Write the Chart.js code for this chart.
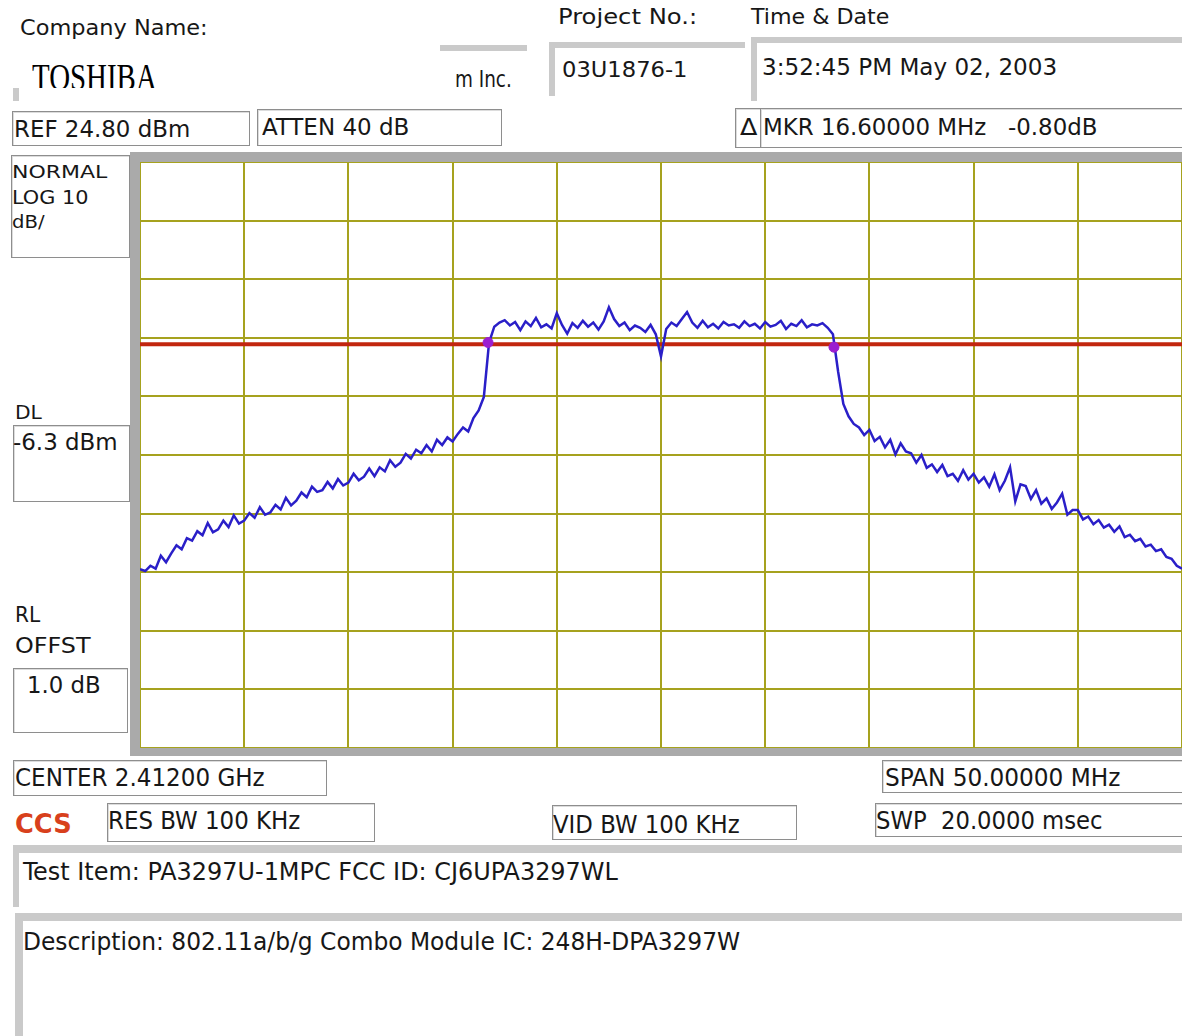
<!DOCTYPE html>
<html>
<head>
<meta charset="utf-8">
<script src="https://cdn.jsdelivr.net/npm/chart.js@4.4.0/dist/chart.umd.min.js"></script>
<style>
  html, body { margin: 0; padding: 0; background: #fff; }
  body { width: 1182px; height: 1036px; position: relative; overflow: hidden;
         font-family: "DejaVu Sans Condensed", "DejaVu Sans", sans-serif; color: #171717; }
  .t { position: absolute; white-space: pre; line-height: 1; transform-origin: 0 0; }
  .box { position: absolute; box-sizing: border-box; border: 1px solid #8e8e8e; box-shadow: inset 1px 1px 0 #dcdcdc; }
  .sunk { position: absolute; box-sizing: border-box; border-top: 6px solid #cacaca; border-left: 6px solid #cacaca; }
  #frame { position: absolute; left: 130px; top: 152px; width: 1070px; height: 604px; background: #aaaaaa; }
  #plot { position: absolute; left: 140px; top: 162px; width: 1042px; height: 586px; background: #fff; }
  #redact { position: absolute; left: 13px; top: 45px; width: 427px; height: 43px; background: #fff; overflow: hidden; }
</style>
</head>
<body>

<!-- sunken fields -->
<div class="sunk" style="left:13px;top:45px;width:514px;height:56px;"></div>
<div class="sunk" style="left:549px;top:42px;width:196px;height:54px;"></div>
<div class="sunk" style="left:751px;top:37px;width:440px;height:64px;"></div>
<div class="sunk" style="left:13px;top:845px;width:1180px;height:62px;border-top-width:8px;"></div>
<div class="sunk" style="left:15px;top:913px;width:1180px;height:130px;border-top-width:8px;border-left-width:8px;"></div>

<!-- thin boxes -->
<div class="box" style="left:12px;top:111px;width:238px;height:35px;"></div>
<div class="box" style="left:257px;top:109px;width:245px;height:37px;"></div>
<div class="box" style="left:735px;top:108px;width:26px;height:40px;"></div>
<div class="box" style="left:760px;top:108px;width:440px;height:40px;"></div>
<div class="box" style="left:11px;top:155px;width:119px;height:103px;"></div>
<div class="box" style="left:13px;top:425px;width:117px;height:77px;"></div>
<div class="box" style="left:13px;top:668px;width:115px;height:65px;"></div>
<div class="box" style="left:13px;top:760px;width:314px;height:36px;"></div>
<div class="box" style="left:107px;top:803px;width:268px;height:39px;"></div>
<div class="box" style="left:552px;top:805px;width:245px;height:35px;"></div>
<div class="box" style="left:882px;top:760px;width:310px;height:33px;"></div>
<div class="box" style="left:875px;top:803px;width:310px;height:34px;"></div>

<div id="frame"></div>
<div id="plot"><canvas id="spectrum"></canvas></div>

<div id="redact"></div>

<script>
// analyzer settings
const START_MHZ = 2387;
const STOP_MHZ = 2437;
const STEP_MHZ = 0.25;
const REF_DBM = 24.8;
const DB_PER_DIV = 10;

// trace, dBm, one value per 0.25 MHz from 2387 to 2437 MHz
const traceDbm = [
  -44.7, -45.0, -44.1, -44.6, -42.4, -43.5, -42.0, -40.6, -41.3, -39.4,
  -39.8, -38.2, -38.9, -36.8, -38.4, -37.9, -36.4, -37.5, -35.5, -36.9,
  -36.4, -35.1, -35.9, -34.1, -35.4, -35.0, -33.7, -34.5, -32.5, -33.8,
  -33.0, -31.6, -32.4, -30.6, -31.5, -31.2, -29.8, -30.9, -29.3, -30.4,
  -29.9, -28.4, -29.5, -28.9, -27.5, -28.8, -27.3, -28.0, -26.1, -27.2,
  -26.5, -25.0, -25.8, -24.3, -24.9, -23.5, -24.6, -22.6, -23.5, -22.2,
  -22.9, -21.6, -20.5, -21.2, -18.9, -17.6, -15.3, -6.0, -3.3, -2.6,
  -2.2, -3.1, -2.5, -3.9, -2.4, -3.2, -1.8, -3.4, -2.9, -3.6,
  -1.0, -3.0, -4.5, -2.7, -3.5, -2.3, -3.3, -2.6, -3.8, -2.4,
  0.0, -2.0, -3.2, -2.6, -3.9, -3.1, -3.5, -4.2, -3.0, -4.6,
  -8.4, -3.7, -2.6, -3.2, -2.0, -0.8, -2.6, -3.5, -2.3, -3.4,
  -2.8, -3.6, -2.5, -3.1, -2.9, -3.5, -2.4, -3.2, -2.8, -3.6,
  -2.5, -3.3, -3.0, -2.3, -3.7, -2.8, -3.2, -2.2, -3.4, -2.9,
  -3.1, -2.7, -3.5, -4.6, -11.0, -16.5, -18.6, -19.9, -20.5, -21.8,
  -20.9, -22.8, -22.1, -23.9, -22.6, -25.1, -23.2, -24.6, -24.9, -26.5,
  -25.2, -27.4, -26.8, -28.1, -26.9, -28.8, -28.4, -29.6, -27.8, -29.4,
  -28.4, -29.9, -29.0, -30.6, -28.5, -31.2, -29.6, -27.3, -33.1, -30.2,
  -30.5, -32.7, -31.2, -33.5, -32.6, -34.4, -33.3, -31.8, -35.4, -34.6,
  -34.6, -36.2, -35.7, -37.0, -36.3, -37.6, -37.1, -38.3, -37.4, -39.2,
  -38.8, -39.9, -39.5, -40.8, -40.5, -41.6, -41.3, -42.6, -42.9, -44.1,
  -44.6
];

const displayLineDbm = -6.3;
const markerMhz = [2403.7, 2420.3];
const markerDbm = [-6.0, -6.8];

// texts: [text, left, capTop, capHeight, width]
const texts = [
  ["Company Name:", 20, 20, 15, 188],
  ["Project No.:", 558, 9, 16, 139],
  ["Time & Date", 751, 9, 16, 138],
  ["m Inc.", 455, 70, 17, 57],
  ["03U1876-1", 562, 62, 16, 125],
  ["3:52:45 PM May 02, 2003", 762, 58, 17, 295],
  ["REF 24.80 dBm", 14, 120, 17, 176],
  ["ATTEN 40 dB", 262, 118, 17, 147],
  ["\u0394", 740, 118, 17, 17],
  ["MKR 16.60000 MHz   -0.80dB", 763, 118, 17, 334],
  ["NORMAL", 12, 165, 13, 96],
  ["LOG 10", 12, 190, 14, 76],
  ["dB/", 12, 215, 13, 33],
  ["DL", 15, 405, 14, 27],
  ["-6.3 dBm", 13, 433, 17, 105],
  ["RL", 15, 607, 15, 25],
  ["OFFST", 15, 638, 16, 75],
  ["1.0 dB", 27, 676, 17, 74],
  ["CENTER 2.41200 GHz", 15, 769, 18, 250],
  ["RES BW 100 KHz", 108, 812, 18, 192],
  ["VID BW 100 KHz", 553, 816, 18, 187],
  ["SPAN 50.00000 MHz", 885, 769, 18, 235],
  ["SWP  20.0000 msec", 876, 812, 18, 227],
  ["Test Item: PA3297U-1MPC FCC ID: CJ6UPA3297WL", 23, 863, 18, 595],
  ["Description: 802.11a/b/g Combo Module IC: 248H-DPA3297W", 23, 933, 18, 717]
];

function addText(parent, txt, x, capTop, capH, w, extra) {
  var el = document.createElement('div');
  el.className = 't';
  el.textContent = txt;
  var size = capH / 0.729;
  el.style.fontSize = size + 'px';
  el.style.left = x + 'px';
  el.style.top = (capTop - 0.117 * size) + 'px';
  if (extra) Object.assign(el.style, extra);
  parent.appendChild(el);
  var sx = w / el.offsetWidth;
  el.style.transform = 'scaleX(' + sx + ')';
  return el;
}

texts.forEach(function (t) { addText(document.body, t[0], t[1], t[2], t[3], t[4]); });

// red CCS logo
addText(document.body, "CCS", 15, 814, 19, 57, { color: '#d8401c', fontWeight: 'bold' });

// redacted company name
addText(document.getElementById('redact'), "TOSHIBA", 19, 17, 28, 125,
  { fontFamily: '"Liberation Serif", serif', color: '#000' });

const tracePoints = traceDbm.map((v, i) => ({ x: START_MHZ + i * STEP_MHZ, y: v }));
const markerPoints = markerMhz.map((f, i) => ({ x: f, y: markerDbm[i] }));

const ctx = document.getElementById('spectrum').getContext('2d');
const spectrumChart = new Chart(ctx, {
  type: 'line',
  data: {
    datasets: [{
      label: 'markers',
      data: markerPoints,
      showLine: false,
      pointRadius: 5,
      pointBackgroundColor: '#9b1fd0',
      pointBorderColor: '#9b1fd0'
    }, {
      label: 'trace',
      data: tracePoints,
      borderColor: '#2a1fc8',
      borderWidth: 2.5,
      pointRadius: 0,
      tension: 0
    }, {
      label: 'display line',
      data: [{ x: START_MHZ, y: displayLineDbm }, { x: STOP_MHZ, y: displayLineDbm }],
      borderColor: '#c2260e',
      borderWidth: 4,
      pointRadius: 0
    }]
  },
  options: {
    responsive: true,
    maintainAspectRatio: false,
    animation: false,
    layout: { padding: 0, autoPadding: false },
    plugins: { legend: { display: false }, tooltip: { enabled: false } },
    scales: {
      x: {
        type: 'linear',
        min: START_MHZ,
        max: STOP_MHZ,
        ticks: { display: false, stepSize: 5, padding: 0 },
        grid: { color: '#a6a21e', lineWidth: 2, drawTicks: false },
        border: { display: false }
      },
      y: {
        min: REF_DBM - 10 * DB_PER_DIV,
        max: REF_DBM,
        ticks: { display: false, stepSize: DB_PER_DIV, padding: 0 },
        grid: { color: '#a6a21e', lineWidth: 2, drawTicks: false },
        border: { display: false }
      }
    }
  }
});
</script>
</body>
</html>
